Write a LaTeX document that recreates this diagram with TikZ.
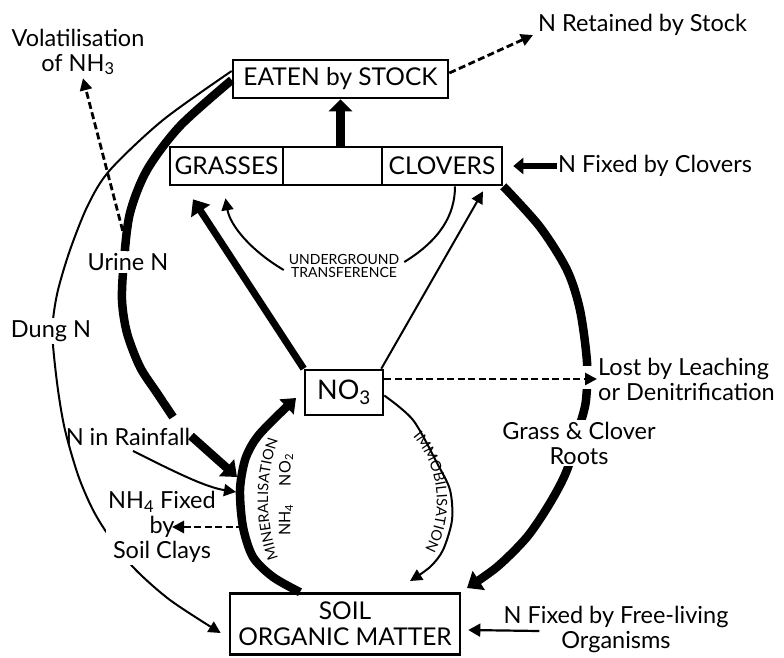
\documentclass[tikz,border=0pt]{standalone}
\usepackage{fontspec}
\setmainfont{Lato}
\usetikzlibrary{arrows.meta,decorations.text,calc}
\begin{document}
\begin{tikzpicture}[x=1pt,y=-1pt,
  lbl/.style={font=\fontsize{23.5}{25}\selectfont, align=center, inner sep=1pt},
  wlbl/.style={lbl, fill=white, inner sep=2pt},
  boxn/.style={draw, line width=2.6pt, font=\fontsize{24.5}{26}\selectfont, inner sep=0pt, align=center},
  thickln/.style={line width=8.5pt},
  thinln/.style={line width=2pt},
  dashln/.style={line width=2.8pt, dash pattern=on 7pt off 3.5pt},
  bigtip/.style={-{Triangle[width=22pt,length=14pt]}},
  smalltip/.style={-{Triangle[width=12pt,length=12pt]}},
  arctext/.style={font=\fontsize{16}{16}\selectfont, inner sep=0pt},
]
\useasboundingbox (0,0) rectangle (784,657);

% boxes
\node[boxn, minimum width=215pt, minimum height=38pt] (eaten) at (340.5,79) {EATEN by STOCK};
\node[boxn, minimum width=113pt, minimum height=38pt] (grasses) at (226.5,166) {GRASSES};
\node[boxn, minimum width=99pt, minimum height=38pt] (mid) at (332.5,166) {};
\node[boxn, minimum width=120pt, minimum height=38pt] (clovers) at (442,166) {CLOVERS};
\node[boxn, minimum width=78pt, minimum height=45pt, font=\fontsize{27}{28}\selectfont] (no3) at (344,392.5) {NO\textsubscript{3}};
\node[boxn, minimum width=230pt, minimum height=61pt] (soil) at (345,624) {SOIL\\ORGANIC MATTER};

% helper coordinates on arcs
\coordinate (minW) at (236,492);
\coordinate (minA) at (243,527);
\coordinate (urineEnd) at (237,477);
\coordinate (urineRe) at (191,436);

% big arcs
\draw[thickln] plot[smooth] coordinates {([yshift=-1pt]eaten.west) (180,126) (147,170) (130,213) (124,260) (122,300) (127,333) (140,367) (157,393) (173,417)};
\draw[thickln, bigtip] (urineRe) -- (urineEnd);
\draw[thinln, smalltip] plot[smooth] coordinates {([yshift=8pt]eaten.west) (163,120) (110,170) (88,205) (70,250) (58,290) (53,320) (53,345) (58,390) (65,430) (78,475) (92,508) (107,533) (133,567) (170,600) ($(soil.west)+(-8,9)$)};
\draw[thickln, bigtip] plot[smooth] coordinates {(clovers.south east) (540,227) (567,270) (580,310) (587,362) (586,400) (580,425) (567,470) (550,503) (527,537) (497,567) (467,588)};
\fill[white] (578,366) rectangle (598,389);
\draw[thickln, -{Triangle[width=20pt,length=13pt]}] plot[smooth] coordinates {([xshift=-45pt]soil.north) (273,577) (253,557) (243,527) (240,490) (245,460) (255,440) (270,423) (296,398)};
\draw[thinln, smalltip] plot[smooth] coordinates {([yshift=-3pt]no3.east) (413,420) (437,463) (450,490) (452,520) (443,550) (430,567) (410,581)};

% straight connectors
\draw[line width=9pt, -{Triangle[width=23pt,length=12pt]}] (eaten.south |- mid.north) -- (eaten.south);
\draw[line width=7pt, bigtip] (no3.north west) -- ($(grasses.south)+(-33.5,13)$);
\draw[thinln, smalltip] ([xshift=-3pt]no3.north east) -- ($(clovers.south)+(41,5)$);

% labels
\node[lbl] (vol) at (78,52) {Volatilisation\\of NH\textsubscript{3}};
\node[lbl, anchor=west] (retained) at (537,25) {N Retained by Stock};
\node[lbl, anchor=west] (fixclov) at (557,166) {N Fixed by Clovers};
\node[lbl, font=\fontsize{14}{13}\selectfont] (ug) at (344,266) {UNDERGROUND\\TRANSFERENCE};
\node[wlbl] (urine) at (128,262) {Urine N};
\node[wlbl] (dung) at (51,331) {Dung N};
\node[lbl] (rain) at (128,437) {N in Rainfall};
\node[wlbl] (nh4fix) at (162,527) {NH\textsubscript{4} Fixed\\by\\Soil Clays};
\node[lbl, anchor=west, align=left] (lost) at (597,379) {Lost by Leaching\\or Denitrification};
\node[wlbl] (roots) at (579,443) {Grass \& Clover\\Roots};
\node[lbl] (freeliv) at (616,629) {N Fixed by Free-living\\Organisms};
\node[arctext, rotate=90] (nhq) at (286,520) {NH\textsubscript{4}};
\node[arctext, rotate=90] (noq) at (286,470) {NO\textsubscript{2}};

% text along arcs (y-up scope so the decoration is not mirrored)
\begin{scope}[y=1pt]
\path[decorate, decoration={text along path, text align=center, text={|\fontsize{14.5}{14.5}\selectfont|MINERALISATION}}]
  plot[domain=204:156, samples=40] ({444+176*cos(\x)},{-499+176*sin(\x)});
\path[decorate, decoration={text along path, text align=center, text={|\fontsize{14.5}{14.5}\selectfont|IMMOBILISATION}}]
  plot[domain=52:-40, samples=40] ({336.5+100.4*cos(\x)},{-501.4+100.4*sin(\x)});
\end{scope}

% label connectors
\draw[dashln, smalltip] (urine.north) -- ($(vol.south)+(5,2)$);
\draw[dashln, smalltip] ([yshift=6pt]eaten.east) -- ($(retained.west)+(-4,10)$);
\draw[line width=6pt, -{Triangle[width=16pt,length=10pt]}] (fixclov.west) -- ($(clovers.east)+(10,0)$);
\draw[thinln, smalltip] ($(ug.west)+(-4,4)$) .. controls (250,250) and (230,225) .. ($(grasses.south)+(-1,12)$);
\draw[thinln] ($(ug.east)+(4,-4)$) .. controls (440,240) and (455,215) .. ($(clovers.south)+(13,0)$);
\draw[thinln, smalltip] ($(rain.south)+(5,4)$) .. controls (175,472) and (205,487) .. (minW);
\draw[dashln, smalltip] (minA) -- ($(nh4fix.center)+(10,0)$);
\draw[dashln, smalltip] (no3.east |- lost.west) -- (lost.west);
\draw[line width=2.2pt, -{Triangle[width=13pt,length=12pt]}] ($(freeliv.west)+(37,2)$) -- ($(soil.east)+(7,6)$);
\end{tikzpicture}
\end{document}
